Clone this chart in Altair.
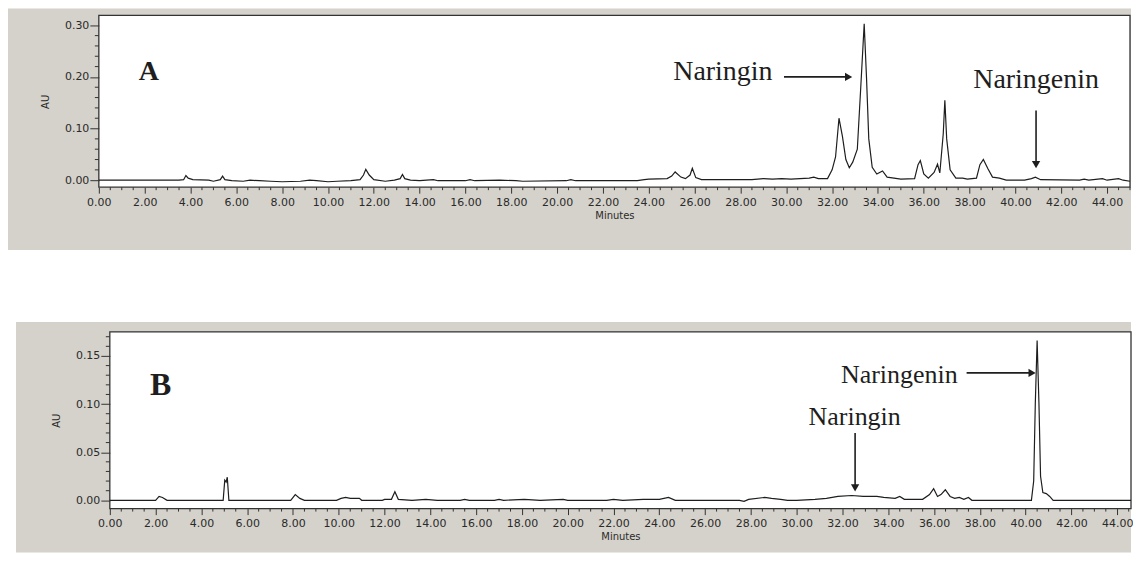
import altair as alt
import pandas as pd

# ---------------- data ----------------
t_a = [0.0, 3.5, 3.7, 3.8, 3.9, 4.1, 4.8, 5.0, 5.3, 5.4, 5.5, 5.8, 6.3, 6.6, 7.0, 7.5,
       8.0, 8.8, 9.2, 9.5, 10.0, 10.4, 11.0, 11.4, 11.55, 11.65, 11.8, 12.0, 12.5, 12.9,
       13.15, 13.25, 13.35, 13.6, 14.0, 14.6, 14.8, 16.0, 16.2, 16.4, 17.5, 18.2, 18.5,
       20.4, 20.6, 20.8, 23.5, 23.8, 24.0, 24.8, 25.0, 25.15, 25.4, 25.6, 25.8, 25.9,
       26.05, 26.3, 28.5, 29.0, 29.4, 29.8, 30.2, 30.6, 31.0, 31.2, 31.4, 31.8, 32.0,
       32.15, 32.3, 32.45, 32.6, 32.75, 32.9, 33.1, 33.25, 33.4, 33.5, 33.6, 33.75,
       33.95, 34.2, 34.4, 34.7, 35.0, 35.6, 35.75, 35.85, 36.0, 36.2, 36.45, 36.6, 36.7,
       36.85, 36.92, 37.0, 37.15, 37.4, 37.7, 37.9, 38.3, 38.45, 38.6, 38.8, 39.0, 39.3,
       39.6, 40.4, 40.7, 40.87, 41.1, 42.8, 43.0, 43.2, 43.8, 44.0, 44.5, 44.7, 45.0]
au_a = [0.000, 0.000, 0.001, 0.009, 0.004, 0.001, 0.000, -0.002, 0.001, 0.008, 0.001, -0.001,
        -0.002, 0.000, -0.001, -0.002, -0.003, -0.002, 0.000, -0.001, -0.003, -0.002, -0.001,
        0.001, 0.010, 0.021, 0.010, 0.001, -0.002, 0.000, 0.003, 0.011, 0.003, 0.000, -0.001,
        0.001, -0.001, -0.001, 0.001, -0.001, 0.000, -0.001, -0.002, -0.001, 0.001, -0.001,
        -0.001, 0.001, 0.002, 0.003, 0.008, 0.016, 0.006, 0.003, 0.010, 0.023, 0.005, 0.001,
        0.001, 0.003, 0.002, 0.003, 0.002, 0.003, 0.004, 0.006, 0.003, 0.003, 0.020, 0.045,
        0.120, 0.085, 0.040, 0.024, 0.035, 0.060, 0.180, 0.303, 0.200, 0.080, 0.025, 0.012,
        0.018, 0.006, 0.004, 0.002, 0.003, 0.030, 0.038, 0.012, 0.004, 0.015, 0.031, 0.014,
        0.090, 0.155, 0.080, 0.020, 0.004, 0.004, 0.002, 0.004, 0.030, 0.040, 0.022, 0.006,
        0.004, 0.000, 0.000, 0.003, 0.006, 0.001, 0.000, 0.002, 0.000, 0.003, 0.000, 0.003,
        0.000, -0.002]

t_b = [0.0, 2.0, 2.15, 2.3, 2.5, 4.95, 5.02, 5.08, 5.13, 5.2, 7.9, 8.1, 8.3, 8.5, 9.9,
       10.1, 10.3, 10.5, 10.9, 11.0, 11.9, 12.0, 12.3, 12.45, 12.6, 13.2, 13.8, 14.3, 15.3,
       15.5, 15.7, 16.8, 17.0, 17.2, 18.1, 18.8, 19.8, 20.0, 21.7, 22.0, 22.4, 23.3, 24.0,
       24.4, 24.7, 27.5, 27.7, 27.9, 28.6, 28.9, 29.3, 29.6, 30.0, 30.8, 31.3, 31.8, 32.4,
       32.9, 33.5, 33.8, 34.3, 34.5, 34.7, 35.5, 35.8, 35.98, 36.15, 36.3, 36.49, 36.7,
       36.9, 37.1, 37.3, 37.5, 37.65, 40.25, 40.35, 40.42, 40.5, 40.58, 40.65, 40.75,
       40.9, 41.05, 41.2, 44.8, 45.0]
au_b = [0.000, 0.000, 0.004, 0.003, 0.000, 0.000, 0.021, 0.019, 0.024, 0.000, 0.000, 0.006,
        0.002, 0.000, 0.000, 0.002, 0.003, 0.002, 0.002, 0.000, 0.000, 0.001, 0.001, 0.009,
        0.001, 0.000, 0.001, 0.000, 0.000, 0.001, 0.000, 0.000, 0.001, 0.000, 0.001, 0.000,
        0.001, 0.000, 0.000, 0.001, 0.000, 0.001, 0.001, 0.003, 0.000, 0.000, -0.001, 0.001,
        0.003, 0.002, 0.001, 0.000, 0.000, 0.001, 0.002, 0.004, 0.005, 0.004, 0.004, 0.003,
        0.002, 0.004, 0.001, 0.001, 0.006, 0.012, 0.004, 0.006, 0.011, 0.004, 0.002, 0.003,
        0.001, 0.003, 0.000, 0.000, 0.020, 0.100, 0.166, 0.100, 0.025, 0.008, 0.007, 0.004,
        0.000, 0.000, 0.002]

x_major = [0, 2, 4, 6, 8, 10, 12, 14, 16, 18, 20, 22, 24, 26, 28, 30, 32, 34, 36, 38, 40, 42, 44]
x_minor = [k * 0.5 for k in range(91) if k % 4 != 0]
y_major_a = [0.0, 0.1, 0.2, 0.3]
y_minor_a = [round(k * 0.02, 3) for k in range(16) if k % 5 != 0]
y_major_b = [0.0, 0.05, 0.10, 0.15]
y_minor_b = [round(k * 0.01, 3) for k in range(18) if k % 5 != 0]

GRAY = "#d5d2cb"
INK = "#1e1e1e"
SANS = "DejaVu Sans"
SERIF = "Liberation Serif"


def panel(t, au, xmax, ydom, ymaj, ymin, w, h, xoff, gray, letter, texts, arrows, heads):
    xs = alt.Scale(domain=[0, xmax], range=[xoff, w], nice=False, zero=False)
    ys = alt.Scale(domain=ydom, nice=False, zero=False)
    xaxis = alt.Axis(values=x_major, format=".2f", title="Minutes", grid=False, domain=False,
                     labelFont=SANS, labelFontSize=11, labelColor="#2a2a2a", labelPadding=3,
                     labelFlush=False, labelOverlap=False, tickSize=6, tickColor="#333333",
                     titleFont=SANS, titleFontSize=10, titleFontWeight="normal",
                     titleColor="#2a2a2a", titlePadding=3, zindex=1)
    yaxis = alt.Axis(values=ymaj, format=".2f", title="AU", grid=False, domain=False,
                     labelFont=SANS, labelFontSize=11, labelColor="#2a2a2a", labelPadding=1,
                     tickSize=9, tickColor="#333333", offset=-xoff,
                     titleFont=SANS, titleFontSize=10, titleFontWeight="normal",
                     titleColor="#2a2a2a", titlePadding=14, zindex=1)
    X = alt.X("t:Q", scale=xs, axis=xaxis)
    Y = alt.Y("v:Q", scale=ys, axis=yaxis)

    one = pd.DataFrame({"t": [0]})
    bg = alt.Chart(one).mark_rect(fill=GRAY).encode(
        x=alt.value(gray[0]), x2=alt.value(gray[1]), y=alt.value(gray[2]), y2=alt.value(gray[3]))
    plot_bg = alt.Chart(one).mark_rect(fill="white", stroke="#333333", strokeWidth=1.3).encode(
        x=alt.value(xoff), x2=alt.value(w), y=alt.value(0), y2=alt.value(h))

    trace = alt.Chart(pd.DataFrame({"t": t, "v": au})).mark_line(
        color=INK, strokeWidth=1.2, clip=True).encode(x=X, y=Y)

    minor_here = [m for m in x_minor if m <= xmax]
    xminor = alt.Chart(pd.DataFrame({"t": minor_here})).mark_rule(color="#333333", strokeWidth=1).encode(
        x=X, y=alt.value(h), y2=alt.value(h + 3))
    yminor = alt.Chart(pd.DataFrame({"v": ymin})).mark_rule(color="#333333", strokeWidth=1).encode(
        y=Y, x=alt.value(xoff), x2=alt.value(xoff - 4))

    layers = [bg, plot_bg, xminor, yminor, trace]

    lt = pd.DataFrame({"t": [letter[1]], "v": [letter[2]], "label": [letter[0]]})
    layers.append(alt.Chart(lt).mark_text(font=SERIF, fontSize=letter[3], fontWeight="bold",
                                          align="left", baseline="alphabetic", color=INK)
                  .encode(x=X, y=Y, text="label:N"))
    for lab, tt, vv, al, fs in texts:
        d = pd.DataFrame({"t": [tt], "v": [vv], "label": [lab]})
        layers.append(alt.Chart(d).mark_text(font=SERIF, fontSize=fs, align=al,
                                             baseline="alphabetic", color=INK)
                      .encode(x=X, y=Y, text="label:N"))
    ad = pd.DataFrame(arrows, columns=["t", "t2", "v", "v2"])
    layers.append(alt.Chart(ad).mark_rule(color=INK, strokeWidth=1.6).encode(
        x=X, x2="t2:Q", y=Y, y2="v2:Q"))
    for shape, tt, vv in heads:
        d = pd.DataFrame({"t": [tt], "v": [vv]})
        layers.append(alt.Chart(d).mark_point(shape=shape, filled=True, size=70, color=INK,
                                              opacity=1).encode(x=X, y=Y))
    return alt.layer(*layers).properties(width=w, height=h)


chart_a = panel(
    t_a, au_a, 45, [-0.0135, 0.319], y_major_a, y_minor_a, 1033, 172, 0,
    (-91, 1034, -7, 235),
    ("A", 1.74, 0.1935, 28),
    [("Naringin", 29.4, 0.1935, "right", 28), ("Naringenin", 40.9, 0.178, "center", 28)],
    [(29.9, 32.75, 0.200, 0.200), (40.9, 40.9, 0.135, 0.031)],
    [("triangle-right", 32.72, 0.200), ("triangle-down", 40.9, 0.030)],
)

chart_b = panel(
    t_b, au_b, 44.6, [-0.0086, 0.175], y_major_b, y_minor_b, 1034, 177, 11,
    (-83, 1034, -10, 221),
    ("B", 1.75, 0.1093, 32),
    [("Naringenin", 37.03, 0.1218, "right", 26), ("Naringin", 32.53, 0.0783, "center", 26)],
    [(37.42, 40.3, 0.1324, 0.1324), (32.55, 32.55, 0.070, 0.0135)],
    [("triangle-right", 40.28, 0.1324), ("triangle-down", 32.55, 0.0130)],
)

chart = alt.vconcat(chart_a, chart_b, spacing=72).properties(padding=0).configure_view(strokeWidth=0)

chart.save("out.html", embed_options={"renderer": "svg", "actions": False})
